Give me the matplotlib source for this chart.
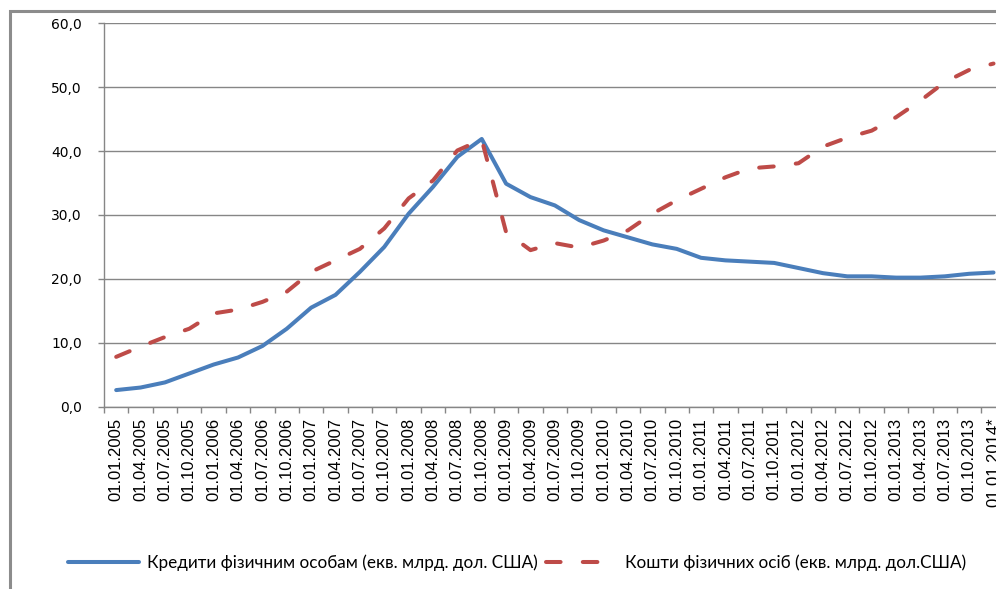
import matplotlib
matplotlib.use("Agg")
import matplotlib.pyplot as plt
from matplotlib.patches import Rectangle
from matplotlib.ticker import FixedLocator, FuncFormatter

dates = ["01.01.2005", "01.04.2005", "01.07.2005", "01.10.2005",
         "01.01.2006", "01.04.2006", "01.07.2006", "01.10.2006",
         "01.01.2007", "01.04.2007", "01.07.2007", "01.10.2007",
         "01.01.2008", "01.04.2008", "01.07.2008", "01.10.2008",
         "01.01.2009", "01.04.2009", "01.07.2009", "01.10.2009",
         "01.01.2010", "01.04.2010", "01.07.2010", "01.10.2010",
         "01.01.2011", "01.04.2011", "01.07.2011", "01.10.2011",
         "01.01.2012", "01.04.2012", "01.07.2012", "01.10.2012",
         "01.01.2013", "01.04.2013", "01.07.2013", "01.10.2013",
         "01.01.2014*"]

# credits to individuals, bn USD equivalent
loans = [2.6, 3.0, 3.8, 5.2, 6.6, 7.7, 9.5, 12.2, 15.5, 17.5,
         21.1, 25.0, 30.2, 34.4, 39.1, 41.9, 34.9, 32.8, 31.5, 29.2,
         27.6, 26.5, 25.4, 24.7, 23.3, 22.9, 22.7, 22.5, 21.7, 20.9,
         20.4, 20.4, 20.2, 20.2, 20.4, 20.8, 21.0]

# deposits of individuals, bn USD equivalent
deposits = [7.8, 9.4, 10.9, 12.2, 14.6, 15.2, 16.4, 18.0, 21.1, 22.9,
            24.7, 27.9, 32.6, 35.4, 40.1, 41.8, 27.3, 24.5, 25.6, 24.9,
            26.0, 27.6, 30.2, 32.3, 34.1, 35.9, 37.3, 37.6, 38.1, 40.7,
            42.1, 43.2, 45.3, 47.9, 50.8, 52.7, 53.7]

label_loans = "Кредити фізичним особам (екв. млрд. дол. США)"
label_deposits = "Кошти фізичних осіб (екв. млрд. дол.США)"

plt.rcParams["lines.scale_dashes"] = False

W, H = 996, 589
fig = plt.figure(figsize=(W / 100, H / 100), dpi=100)

# outer chart frame (cut off on the right and bottom)
fig.patches.append(Rectangle((10 / W, -0.1), 1.2, 1 - 11 / H + 0.1,
                             transform=fig.transFigure, fill=False,
                             edgecolor="#8c8c8c", linewidth=2.2))

left, right, top, bottom = 104, 1005.7, 23.3, 406.7
ax = fig.add_axes([left / W, 1 - bottom / H, (right - left) / W, (bottom - top) / H])

x = list(range(len(dates)))
ax.plot(x, loans, color="#4a7ebb", linewidth=2.9, solid_capstyle="round",
        label=label_loans)
ax.plot(x, deposits, color="#be4b48", linewidth=2.9, dashes=(10.5, 16),
        dash_capstyle="round", label=label_deposits)

ax.set_xlim(-0.5, len(dates) - 0.5)
ax.set_ylim(0, 60)
ax.set_yticks(range(0, 61, 10))
ax.yaxis.set_major_formatter(FuncFormatter(lambda v, p: f"{v:.1f}".replace(".", ",")))
ax.grid(axis="y", color="#868686", linewidth=1)
ax.set_axisbelow(True)

ax.set_xticks(x)
ax.set_xticklabels(dates, rotation=90, fontsize=12, family="Liberation Sans")
ax.xaxis.set_minor_locator(FixedLocator([i - 0.5 for i in range(len(dates) + 1)]))
ax.tick_params(axis="x", which="major", length=0, pad=8)
ax.tick_params(axis="x", which="minor", length=4, color="#868686", width=1)
ax.tick_params(axis="y", length=4, color="#868686", width=1, pad=12, labelsize=10)

for s in ["top", "right"]:
    ax.spines[s].set_visible(False)
for s in ["left", "bottom"]:
    ax.spines[s].set_color("#868686")
    ax.spines[s].set_linewidth(1)

fs = 12.3
fpx = fs * 100 / 72
leg = fig.legend(loc="center left", bbox_to_anchor=(68 / W, 1 - 563 / H), ncol=2,
                 frameon=False, borderpad=0, borderaxespad=0,
                 handlelength=71 / fpx, handletextpad=8 / fpx,
                 columnspacing=8 / fpx, prop={"family": "Lato", "size": fs})

fig.savefig("out.png", dpi=100)
